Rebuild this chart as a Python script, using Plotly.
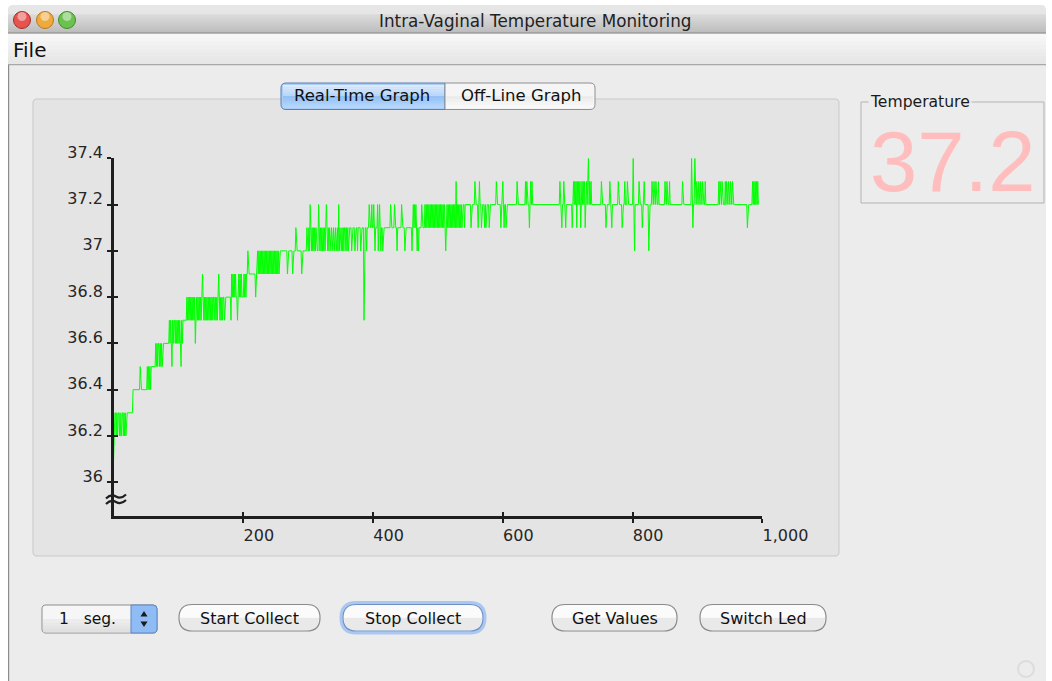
import plotly.graph_objects as go

W, H = 1052, 681

# ---------------- data ----------------
# each character = tenths of a degree above 36.0 (see LEVEL_CODES)
LEVEL_CODES = "0123456789abcde"
TEMP_BLOCKS = [
    # samples 0-99
    "1333232332" "3223323232" "3333333333" "4444444444" "4544444444"
    "4454545455" "5555565656" "6565656666" "6666667676" "5767767676",
    # 100-199
    "7676576777" "7778787878" "7878786787" "8787878987" "8787878787"
    "8787887878" "7898787878" "8788888888" "8798989898" "8789898988",
    # 200-299
    "8989899a99" "9999999998" "99a9a9a9a9" "a9a9a9a9a9" "a9a9a9a9a9"
    "a9a9a9aaaa" "aaaaaaaa9a" "aaaaaa9aaa" "abaaaaaaaa" "9aaaaaaaba",
    # 300-399
    "abacbababa" "babaaacbab" "ababababcb" "ababaabaab" "aabaabacab"
    "aabababbab" "ababbbbabb" "bbabbbabbb" "babbbb7bbb" "abbbcbbbcb",
    # 400-499
    "bcbabbbcab" "cbabbabbbb" "bbbbbbbcbb" "bbbcbbbabb" "bbbbcbbbba"
    "bbbbbbbbbb" "abcbcbcbab" "abbbbcbbbb" "cbcbcbcbcb" "cbcbcbcbcb",
    # 500-599
    "cbcbcbcbcb" "cbabcbcbcb" "cbcbcbcbdb" "cbcbcbcbcc" "cbcccccccc"
    "cbcccccdcc" "ccbcdccbcc" "ccbcbccccb" "cccccccccc" "dccccccbcc",
    # 600-699
    "dcbccbcccc" "cccccccccc" "ccdccccccc" "cccccdcdcc" "cbcdcdcccc"
    "cccccccccc" "cccccccccc" "cccccccccc" "ccccccccdc" "cbccdccbcc",
    # 700-799
    "cccccccbcd" "cdcdbdcdcd" "bcdcdcdbcd" "cdecdcdccc" "cccccccccc"
    "ccdccccccb" "cccccdccbc" "ccccccccdc" "ccccbcccdc" "ccdccccccc",
    # 800-899
    "cecacccccc" "dccccbccdc" "cccccacccc" "dccdccdccc" "dccccccccc"
    "dccdcccdcc" "cccccccccc" "cccccccdcc" "cccccccccc" "cecbcceccd",
    # 900-994
    "ccdccdccdc" "ccdccccccc" "cccccccccc" "cccdcdccdc" "cccdcdccdc"
    "cdccdccccc" "cccccccccc" "cccccccbcc" "cccccdcdcd" "cdcdc",
]

X_TICKS = [200, 400, 600, 800, 1000]
X_TICK_TEXT = ["200", "400", "600", "800", "1,000"]
Y_TICKS = [36.0, 36.2, 36.4, 36.6, 36.8, 37.0, 37.2, 37.4]
Y_TICK_TEXT = ["36", "36.2", "36.4", "36.6", "36.8", "37", "37.2", "37.4"]
X_RANGE = [0, 1000]
Y_RANGE = [35.854, 37.4]

WINDOW_TITLE = "Intra-Vaginal Temperature Monitoring"
MENU_ITEMS = ["File"]
TAB_LABELS = ["Real-Time Graph", "Off-Line Graph"]
TEMP_BOX_TITLE = "Temperature"
CURRENT_TEMP = "37.2"
SPINNER_TEXT = "1   seg."
BUTTON_LABELS = ["Start Collect", "Stop Collect", "Get Values", "Switch Led"]

temps = [round(36.0 + LEVEL_CODES.index(c) / 10.0, 1) for b in TEMP_BLOCKS for c in b]
samples = list(range(len(temps)))

FONT = "DejaVu Sans, Lucida Grande, Verdana, sans-serif"

# ---------------- helpers (pixel -> paper) ----------------
def px(x):
    return x / W


def py(y):
    return 1 - y / H


def pt(x, y):
    return f"{px(x):.5f},{py(y):.5f}"


def rpath(x0, y0, x1, y1, r, tl=True, tr=True, br=True, bl=True):
    a = r if tl else 0
    b = r if tr else 0
    c = r if br else 0
    d = r if bl else 0
    return (f"M{pt(x0 + a, y0)} L{pt(x1 - b, y0)} Q{pt(x1, y0)} {pt(x1, y0 + b)} "
            f"L{pt(x1, y1 - c)} Q{pt(x1, y1)} {pt(x1 - c, y1)} L{pt(x0 + d, y1)} "
            f"Q{pt(x0, y1)} {pt(x0, y1 - d)} L{pt(x0, y0 + a)} Q{pt(x0, y0)} {pt(x0 + a, y0)} Z")


shapes = []


def rect(x0, y0, x1, y1, fill, line=None, lw=0, layer="below"):
    shapes.append(dict(type="rect", xref="paper", yref="paper",
                       x0=px(x0), x1=px(x1), y0=py(y1), y1=py(y0),
                       fillcolor=fill, line=dict(width=lw, color=line or fill),
                       layer=layer))


def path(d, fill="rgba(0,0,0,0)", line="rgba(0,0,0,0)", lw=0, layer="below"):
    shapes.append(dict(type="path", xref="paper", yref="paper", path=d,
                       fillcolor=fill, line=dict(width=lw, color=line), layer=layer))


def circle(cx, cy, r, fill, line, lw=1, layer="below"):
    shapes.append(dict(type="circle", xref="paper", yref="paper",
                       x0=px(cx - r), x1=px(cx + r), y0=py(cy + r), y1=py(cy - r),
                       fillcolor=fill, line=dict(width=lw, color=line), layer=layer))


def hexmix(c0, c1, t):
    a = [int(c0[i:i + 2], 16) for i in (1, 3, 5)]
    b = [int(c1[i:i + 2], 16) for i in (1, 3, 5)]
    return "#" + "".join(f"{round(a[k] + (b[k] - a[k]) * t):02x}" for k in range(3))


def grad(x0, y0, x1, y1, c0, c1, n=10):
    h = (y1 - y0) / n
    for i in range(n):
        rect(x0, y0 + i * h, x1, y0 + (i + 1) * h + 0.3, hexmix(c0, c1, i / max(n - 1, 1)))


annotations = []


def text(x, y, s, size=15, color="#1a1a1a", xanchor="center", yanchor="middle",
         family=FONT, bg=None):
    a = dict(x=px(x), y=py(y), xref="paper", yref="paper", text=s, showarrow=False,
             xanchor=xanchor, yanchor=yanchor,
             font=dict(family=family, size=size, color=color))
    if bg:
        a["bgcolor"] = bg
        a["borderpad"] = 1
    annotations.append(a)


# ---------------- window chrome ----------------
WIN_BG = "#ececec"
path(rpath(8, 5, 1046, 690, 6, br=False, bl=False), fill=WIN_BG)
# title bar
grad(8, 9, 1046, 33, "#e4e4e4", "#bdbdbd", 12)
path(rpath(8, 5, 1046, 14, 5, br=False, bl=False), fill="#e6e6e6")
rect(8, 32.5, 1046, 33.5, "#8a8a8a")
# menu bar
grad(8, 34, 1046, 64, "#f7f7f7", "#e6e6e6", 8)
rect(8, 64, 1046, 65.2, "#a8a8a8")
rect(8, 65, 9.2, 681, "#8c8c8c")
for cx, fill, ln in [(22, "#e5544e", "#a32f2a"), (45, "#eeaa3c", "#b87a1f"), (67, "#6cc24f", "#3f8c2c")]:
    circle(cx, 20, 8.5, fill, ln, 1)
    circle(cx, 16.5, 4.5, "rgba(255,255,255,0.45)", "rgba(0,0,0,0)", 0)
text(535, 20.5, WINDOW_TITLE, size=16.8, color="#222222")
text(11, 50, MENU_ITEMS[0], size=20, color="#111111", xanchor="left")

# tab panel
path(rpath(33, 99, 839, 556, 4), fill="#e4e4e4", line="#c9c9c9", lw=1)
# tabs
path(rpath(281, 83, 445, 109.5, 5, tr=False, br=False), fill="#a9cdf7")
grad(283, 85, 445, 96, "#dbeafc", "#b9d7fa", 5)
grad(283, 96, 445, 108, "#94c1f6", "#b5d6fb", 5)
path(rpath(281, 83, 445, 109.5, 5, tr=False, br=False), line="#5d7fae", lw=1)
path(rpath(445, 83, 595, 109.5, 5, tl=False, bl=False), fill="#f5f5f5")
grad(446, 96, 593, 108, "#ececec", "#f8f8f8", 4)
path(rpath(445, 83, 595, 109.5, 5, tl=False, bl=False), line="#8f8f8f", lw=1)
text(362, 96, TAB_LABELS[0], size=16.5, color="#111111")
text(521, 96, TAB_LABELS[1], size=16.5, color="#111111")

# temperature box
rect(861, 102, 1044, 203, "rgba(0,0,0,0)", line="#b3b3b3", lw=1)
text(868, 102, TEMP_BOX_TITLE, size=15.6, color="#1a1a1a", xanchor="left", bg=WIN_BG)
text(952.5, 161, CURRENT_TEMP, size=85, color="#ffbdbd",
     family="Liberation Sans, Arial, sans-serif")

# spinner
path(rpath(42, 605, 157, 633, 4), fill="#f6f6f6", line="#8d8d8d", lw=1)
grad(43, 619, 131, 632, "#ececec", "#e0e0e0", 4)
path(rpath(131, 605, 157, 633, 4, tl=False, bl=False), fill="#8fbcf4", line="#5f86c0", lw=1)
path(f"M{pt(140.5, 616.5)} L{pt(147.5, 616.5)} L{pt(144, 611)} Z", fill="#1a1a1a")
path(f"M{pt(140.5, 621.5)} L{pt(147.5, 621.5)} L{pt(144, 627)} Z", fill="#1a1a1a")
text(57, 619, SPINNER_TEXT, size=15.5, color="#111111", xanchor="left")

# buttons
BTN_X = [(179, 320), (343, 483), (552, 677), (700, 826)]
for (x0, x1), label in zip(BTN_X, BUTTON_LABELS):
    y0, y1 = 604.5, 631
    r = (y1 - y0) / 2
    if label == "Stop Collect":
        path(rpath(x0 - 2, y0 - 2, x1 + 2, y1 + 2, r + 2), line="#a9c7f0", lw=3)
    path(rpath(x0, y0, x1, y1, r), fill="#fbfbfb")
    path(rpath(x0 + 1, (y0 + y1) / 2, x1 - 1, y1 - 0.5, r - 1, tl=False, tr=False), fill="#e9e9e9")
    path(rpath(x0, y0, x1, y1, r), line="#6d8fc8" if label == "Stop Collect" else "#8a8a8a", lw=1.2)
    text((x0 + x1) / 2, 618, label, size=16, color="#111111")

circle(1026, 669, 8, "rgba(0,0,0,0)", "#dcdcdc", 2)

# axis break symbol on the y axis
for yb in (496.5, 502):
    path(f"M{pt(106, yb + 2)} Q{pt(111, yb - 3)} {pt(116, yb)} Q{pt(121, yb + 3)} {pt(126, yb - 2)}",
         line="#1e1e1e", lw=2.2, layer="above")

# ---------------- figure ----------------
XDOM = [113.6 / W, 762.3 / W]
YDOM = [(H - 516) / H, (H - 158.3) / H]
AX = "#1e1e1e"
TICKFONT = dict(family=FONT, size=16, color="#262626")

fig = go.Figure()
fig.add_trace(go.Scatter(x=samples, y=temps, mode="lines",
                         line=dict(color="#00ff00", width=1),
                         hoverinfo="skip", showlegend=False))
fig.add_trace(go.Scatter(x=[X_RANGE[0]], y=[Y_RANGE[1]], xaxis="x2", yaxis="y2",
                         mode="markers", marker=dict(opacity=0),
                         hoverinfo="skip", showlegend=False))

fig.update_layout(
    width=W, height=H, autosize=False,
    margin=dict(l=0, r=0, t=0, b=0, pad=0, autoexpand=False),
    paper_bgcolor="#ffffff", plot_bgcolor="rgba(0,0,0,0)",
    shapes=shapes, annotations=annotations,
    xaxis=dict(domain=XDOM, range=X_RANGE, anchor="y", automargin=False,
               tickmode="array", tickvals=X_TICKS, ticktext=X_TICK_TEXT,
               ticks="outside", ticklen=4, tickwidth=2, tickcolor=AX,
               ticklabelposition="outside right", ticklabelshift=-2,
               ticklabelstandoff=3, tickfont=TICKFONT,
               showline=True, linecolor=AX, linewidth=2.5,
               showgrid=False, zeroline=False, fixedrange=True),
    yaxis=dict(domain=YDOM, range=Y_RANGE, anchor="x", automargin=False,
               tickmode="array", tickvals=Y_TICKS, ticktext=Y_TICK_TEXT,
               ticks="outside", ticklen=4, tickwidth=2, tickcolor=AX,
               ticklabelposition="outside", ticklabelshift=-6,
               ticklabelstandoff=1, tickfont=TICKFONT,
               showline=True, linecolor=AX, linewidth=2.5,
               showgrid=False, zeroline=False, fixedrange=True),
    xaxis2=dict(overlaying="x", anchor="y2", range=X_RANGE, automargin=False,
                tickmode="array", tickvals=X_TICKS,
                ticks="inside", ticklen=4, tickwidth=2, tickcolor=AX,
                showticklabels=False, showline=False, showgrid=False,
                zeroline=False, fixedrange=True),
    yaxis2=dict(overlaying="y", anchor="x2", range=Y_RANGE, automargin=False,
                tickmode="array", tickvals=Y_TICKS,
                ticks="inside", ticklen=4, tickwidth=2, tickcolor=AX,
                showticklabels=False, showline=False, showgrid=False,
                zeroline=False, fixedrange=True),
)

PAGE_FIX = ("document.documentElement.style.margin='0';"
            "document.documentElement.style.overflow='hidden';"
            "document.body.style.margin='0';"
            "document.body.style.padding='0';"
            "document.body.style.overflow='hidden';")

fig.write_html("out.html", config={"displayModeBar": False, "staticPlot": True},
               post_script=PAGE_FIX)
